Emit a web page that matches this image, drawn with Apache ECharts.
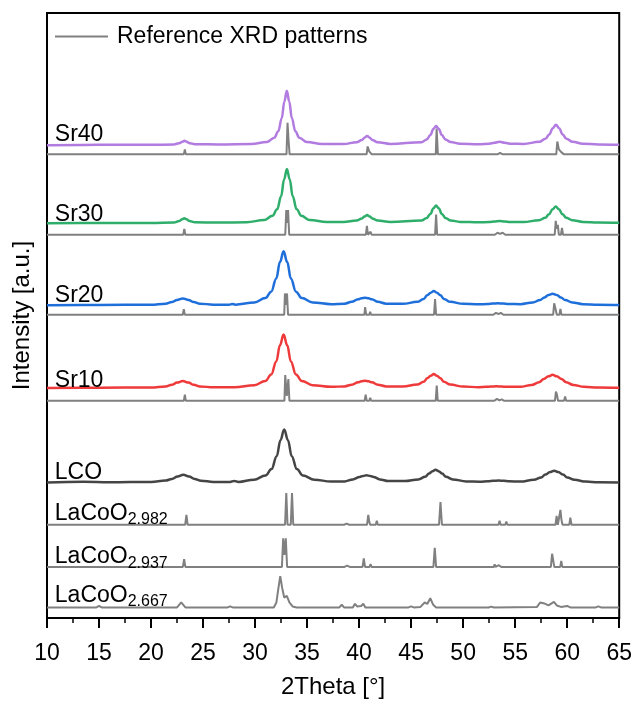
<!DOCTYPE html>
<html><head><meta charset="utf-8">
<script src="https://cdn.jsdelivr.net/npm/echarts@6/dist/echarts.min.js"></script>
<style>html,body{margin:0;padding:0;background:#fff}#c{width:635px;height:704px}</style>
</head><body><div id="c"></div>
<script>
// ---- DATA (2Theta [deg], intensity above each pattern's own baseline, a.u.) ----
const sampleNames = ['Sr40','Sr30','Sr20','Sr10','LCO'];
const refNames = ['LaCoO{s|2.982}','LaCoO{s|2.937}','LaCoO{s|2.667}'];
// vertical stacking offsets used by the original figure (a.u.)
const offSample = [478.3, 399.3, 316, 232.3, 136.7];
const offRefSr = [469, 387.7, 306.7, 219.7];
const offRefLa = [94.3, 51.7, 10.7];

const sr40 = [[10,0],[15,0.3],[20,0.3],[22.2,0.8],[22.7,2],[23.02,3.5],[23.22,4.5],[23.42,3.5],[23.72,2],[24.2,1],[26.5,0.7],[29.65,1.1],[31.13,3.2],[31.85,7.6],[32.23,14.1],[32.57,27.5],[32.81,44],[33.05,55],[33.29,44],[33.53,27.5],[33.87,14.1],[34.25,7.6],[34.97,3.2],[36.45,1.3],[38.5,1.2],[39.77,3],[40.27,5.2],[40.52,7.5],[40.77,9.4],[41.02,7.5],[41.27,5.2],[41.77,3],[43,1.3],[46.0,3],[46.5,5.7],[46.85,10.2],[47.15,16.5],[47.4,19.4],[47.65,16.5],[47.95,10.2],[48.3,5.7],[48.8,3.1],[49.7,1.5],[51.5,1],[52.5,1.5],[53.0,2.4],[53.5,3.4],[54.0,2.4],[54.5,1.5],[55.8,1.3],[57.32,3.4],[57.92,6.6],[58.27,10.8],[58.62,17.2],[58.92,20.7],[59.22,17.2],[59.57,10.8],[59.92,6.6],[60.52,3.4],[61.5,1.5],[63,0.8],[65,0.5]];
const sr30 = [[10,0],[15,0.3],[20,0.3],[22.2,0.8],[22.7,2.2],[23.0,4],[23.2,5],[23.4,4],[23.7,2.2],[24.2,1],[26.5,0.7],[29.2,1.1],[30.86,3.2],[31.68,7.6],[32.12,14.1],[32.51,27.5],[32.78,44],[33.06,55],[33.34,44],[33.61,27.5],[34.0,14.1],[34.44,7.6],[35.26,3.2],[36.9,1.3],[38.5,1.2],[39.77,2.8],[40.27,4.8],[40.52,6.8],[40.77,8.4],[41.02,6.8],[41.27,4.8],[41.77,2.8],[43,1.3],[46.0,2.9],[46.5,5.4],[46.85,9.5],[47.15,15.3],[47.4,18],[47.65,15.3],[47.95,9.5],[48.3,5.4],[48.8,2.9],[49.7,1.4],[51.5,1],[52.5,1.3],[53.0,1.9],[53.5,2.4],[54.0,1.9],[54.5,1.3],[55.8,1.2],[57.3,3.1],[57.9,5.6],[58.25,9],[58.6,14.2],[58.9,17],[59.2,14.2],[59.55,9],[59.9,5.6],[60.5,3.1],[61.5,1.4],[63,0.8],[65,0.5]];
const sr20 = [[10,0.3],[15,0.6],[20,0.9],[21.4,2],[22.0,3.6],[22.5,5.8],[23.06,7.3],[23.6,5.8],[24.1,3.6],[24.7,2],[26,1],[27.5,0.9],[27.8,1.7],[28.1,1],[29.94,3.2],[30.99,7.6],[31.55,14.1],[32.04,27.5],[32.39,44],[32.74,55],[33.09,44],[33.44,27.5],[33.93,14.1],[34.49,7.6],[35.54,3.2],[37.3,1.5],[38.6,2],[39.3,3.8],[39.9,6.4],[40.22,7.4],[40.56,8],[40.9,7.4],[41.22,6.4],[41.8,3.8],[42.6,2],[44.2,1.8],[45.6,3.8],[46.2,6.7],[46.55,10.4],[46.88,13],[47.18,14.7],[47.48,13],[47.81,10.4],[48.16,6.7],[48.76,3.8],[50,1.8],[51.5,1.3],[52.35,1.7],[52.85,2.1],[53.35,2.3],[53.85,2.1],[54.35,1.7],[55.5,1.5],[56.7,3.2],[57.4,5.6],[57.8,8.3],[58.2,10.7],[58.6,12],[59.0,10.7],[59.4,8.3],[59.8,5.6],[60.5,3.2],[61.5,1.5],[63,0.8],[65,0.5]];
const sr10 = [[10,0.3],[15,0.6],[20,0.9],[21.4,2],[22.0,3.6],[22.5,5.9],[23.06,7.4],[23.6,5.9],[24.1,3.6],[24.7,2],[26,1],[28,1],[29.94,3.2],[30.99,7.5],[31.55,14],[32.04,27.2],[32.39,43.5],[32.74,54.4],[33.09,43.5],[33.44,27.2],[33.93,14],[34.49,7.5],[35.54,3.2],[37.3,1.5],[38.6,2],[39.3,3.7],[39.9,6.2],[40.22,7.1],[40.56,7.7],[40.9,7.1],[41.22,6.2],[41.8,3.7],[42.6,2],[44.2,1.8],[45.6,3.8],[46.2,6.6],[46.55,10.2],[46.88,12.7],[47.18,14.4],[47.48,12.7],[47.81,10.2],[48.16,6.6],[48.76,3.8],[50,1.8],[51.5,1.2],[52.2,1.5],[52.7,1.9],[53.2,2.1],[53.7,1.9],[54.2,1.5],[55.5,1.5],[56.6,3.5],[57.3,6.2],[57.75,9.4],[58.2,12.2],[58.6,13.7],[59.0,12.2],[59.45,9.4],[59.9,6.2],[60.6,3.5],[61.6,1.5],[63,0.8],[65,0.5]];
const lco = [[10,0.3],[13.5,1.2],[16,0.6],[20,1],[21.4,2.3],[22.0,4],[22.55,6.5],[23.1,8.3],[23.65,6.5],[24.2,4],[24.8,2.2],[26,1],[27.6,0.8],[28.0,2],[28.4,0.9],[29.9,3.2],[31.0,7.5],[31.58,13.9],[32.08,27],[32.44,43.2],[32.8,54],[33.16,43.2],[33.52,27],[34.02,13.9],[34.6,7.5],[35.7,3.2],[37.3,1.3],[38.6,1.5],[39.4,3.5],[40.05,6],[40.38,7],[40.72,7.6],[41.06,7],[41.39,6],[42.0,3.5],[42.8,1.8],[44.4,1.8],[45.7,3.5],[46.35,6.1],[46.72,9.4],[47.05,11.7],[47.35,13.3],[47.65,11.7],[47.98,9.4],[48.35,6.1],[49.0,3.5],[50.3,1.5],[51.6,1.2],[52.4,1.7],[52.9,2.1],[53.4,2.3],[53.9,2.1],[54.4,1.7],[55.5,1.3],[56.8,3.1],[57.5,5.5],[57.9,8.4],[58.35,10.9],[58.75,12.3],[59.15,10.9],[59.6,8.4],[60.0,5.5],[60.7,3.1],[61.8,1.3],[63,0.6],[65,0.4]];

const ref40 = [[10,0],[23.15,0],[23.25,5],[23.35,0],[33.02,0],[33.12,32],[33.22,14],[33.32,0],[40.72,0],[40.82,8],[40.97,3],[41.22,0],[47.37,0],[47.45,26],[47.57,0],[53.3,0],[53.55,1.5],[53.8,0],[58.95,0],[59.05,13],[59.2,5],[59.45,2],[59.7,0],[65,0]];
const ref30 = [[10,0],[23.1,0],[23.2,6],[23.3,0],[32.9,0],[33.0,25],[33.08,12],[33.17,25],[33.28,0],[40.65,0],[40.75,9],[40.85,0],[41.1,3],[41.2,0],[47.3,0],[47.4,20.5],[47.5,0],[53.05,0],[53.3,2],[53.55,0.8],[53.8,2],[54.05,0],[58.8,0],[58.9,14],[59.0,6],[59.1,10],[59.2,0],[59.4,0],[59.5,7],[59.6,0],[65,0]];
const ref20 = [[10,0],[23.05,0],[23.15,5.6],[23.25,0],[32.8,0],[32.87,21.6],[32.97,10],[33.07,21.6],[33.17,0],[40.5,0],[40.58,7.7],[40.68,0],[40.98,0],[41.06,3],[41.15,0],[47.2,0],[47.3,16],[47.4,0],[52.9,0],[53.15,2],[53.4,0.8],[53.62,2],[53.87,0],[58.65,0],[58.75,11.6],[58.88,6],[59.0,0],[59.25,0],[59.35,6],[59.45,0],[65,0]];
const ref10 = [[10,0],[23.15,0],[23.25,6.3],[23.35,0],[32.82,0],[32.9,26],[33.05,5],[33.2,22],[33.3,0],[40.53,0],[40.63,6.3],[40.73,0],[40.98,0],[41.07,3],[41.16,0],[47.36,0],[47.46,15.3],[47.56,0],[53.0,0],[53.25,2],[53.48,0.5],[53.7,1.5],[53.95,0],[58.82,0],[58.92,9.3],[59.02,6],[59.12,0],[59.7,0],[59.8,4.3],[59.9,0],[65,0]];

const lc982 = [[10,0],[23.28,0],[23.4,10],[23.52,0],[32.88,0],[33.0,32],[33.12,0],[33.43,0],[33.55,32],[33.67,0],[38.55,0],[38.8,1.2],[39.05,0],[40.76,0],[40.88,10],[40.98,3],[41.06,0],[41.6,0],[41.7,4],[41.8,0],[47.68,0],[47.82,23],[47.96,0],[53.4,0],[53.5,4],[53.6,0],[54.05,0],[54.15,3.3],[54.25,0],[58.88,0],[58.98,9],[59.1,0],[59.25,0],[59.35,15],[59.45,5],[59.55,0],[60.2,0],[60.3,7.3],[60.42,0],[65,0]];
const lc937 = [[10,0],[23.06,0],[23.18,7.7],[23.3,0],[32.58,0],[32.7,29],[32.82,12],[32.95,29],[33.08,0],[38.6,0],[38.85,1.2],[39.1,0],[40.33,0],[40.45,8.7],[40.57,0],[41.0,0],[41.1,2.7],[41.2,0],[47.14,0],[47.27,19.3],[47.4,0],[52.95,0],[53.03,2.7],[53.12,0],[53.2,0],[53.43,1.7],[53.66,0],[58.43,0],[58.55,13.3],[58.68,5],[58.76,0],[59.33,0],[59.43,6],[59.53,0],[65,0]];
const lc667 = [[10,0],[14.75,0],[15.0,1.5],[15.25,0],[22.5,0],[22.7,2.5],[22.9,5],[23.1,2.5],[23.3,0],[27.35,0],[27.6,1],[27.85,0],[31.8,0],[32.05,5],[32.25,20],[32.42,31.6],[32.6,20],[32.8,10],[33.05,11.7],[33.3,5],[33.6,1],[34,0],[38.1,0],[38.33,2.7],[38.55,0],[39.4,0],[39.6,3.7],[39.8,1],[40.2,1.5],[40.4,3.7],[40.6,0],[44.75,0],[45.0,1],[45.25,0],[45.9,0.5],[46.3,5],[46.55,3.5],[46.84,9.3],[47.1,3],[47.4,0],[52.45,0],[52.7,0.8],[52.95,0],[57.1,0.5],[57.4,5],[57.56,7],[57.8,4],[58.2,2],[58.73,5.6],[59.0,2],[59.4,0.5],[60.0,1.5],[60.3,0],[62.75,0],[63.0,1],[63.25,0],[65,0]];

// ---- layout / style ----
const sampleData = [sr40, sr30, sr20, sr10, lco];
const refSrData = [ref40, ref30, ref20, ref10];
const refLaData = [lc982, lc937, lc667];
const sampleColors = ['#b27be0', '#2fae6b', '#1f6fdb', '#ee3a3a', '#454545'];
const refColor = '#808080';
const labelX = 10.75;
const sampleLabelY = [489, 408, 326, 240, 147];
const refLabelY = [106, 62, 23];
const FONT = "'Liberation Sans', Arial, sans-serif";

const shift = (arr, off) => arr.map(p => [p[0], p[1] + off]);

function labelPoint(text, y) {
  return {
    symbol: 'circle', symbolSize: 0, silent: true,
    data: [{ coord: [labelX, y], value: text }],
    label: {
      show: true, position: 'right', distance: 0, color: '#000',
      fontFamily: FONT, fontSize: 23,
      formatter: () => text,
      rich: {
        s: { fontFamily: FONT, fontSize: 16, color: '#000', verticalAlign: 'top', padding: [13, 0, 0, 0] }
      }
    }
  };
}

const series = [];
sampleData.forEach((d, i) => {
  series.push({
    name: sampleNames[i], type: 'line', data: shift(d, offSample[i]),
    showSymbol: false, symbol: 'none', smooth: 0.4, smoothMonotone: 'x',
    lineStyle: { color: sampleColors[i], width: 2.5 }, itemStyle: { color: sampleColors[i] },
    markPoint: labelPoint(sampleNames[i], sampleLabelY[i]), z: 3
  });
});
refSrData.forEach((d, i) => {
  series.push({
    name: 'Reference XRD patterns', type: 'line', data: shift(d, offRefSr[i]),
    showSymbol: false, symbol: 'none',
    lineStyle: { color: refColor, width: 2 }, itemStyle: { color: refColor }, z: 2
  });
});
refLaData.forEach((d, i) => {
  series.push({
    name: 'ref' + i, type: 'line', data: shift(d, offRefLa[i]),
    showSymbol: false, symbol: 'none',
    lineStyle: { color: refColor, width: 2 }, itemStyle: { color: refColor },
    markPoint: labelPoint(refNames[i], refLabelY[i]), z: 2
  });
});

const chart = echarts.init(document.getElementById('c'), null, { renderer: 'canvas' });
chart.setOption({
  animation: false,
  backgroundColor: '#fff',
  textStyle: { fontFamily: FONT },
  grid: { left: 47, right: 13, top: 13, bottom: 79, show: true, borderColor: '#000', borderWidth: 2, backgroundColor: 'transparent' },
  legend: {
    data: ['Reference XRD patterns'], left: 55, top: 25, padding: 0,
    itemWidth: 53, itemHeight: 2, icon: 'rect',
    textStyle: { fontFamily: FONT, fontSize: 23, color: '#000', padding: [0, 0, 0, 4] }
  },
  xAxis: {
    type: 'value', min: 10, max: 65, interval: 5,
    name: '2Theta [°]', nameLocation: 'middle', nameGap: 57,
    nameTextStyle: { fontFamily: FONT, fontSize: 24, color: '#000' },
    axisLine: { show: true, lineStyle: { color: '#000', width: 2 } },
    axisTick: { show: true, length: 10, lineStyle: { color: '#000', width: 2 } },
    minorTick: { show: true, splitNumber: 2, length: 5, lineStyle: { color: '#000', width: 1.5 } },
    axisLabel: { fontFamily: FONT, fontSize: 23, color: '#000', margin: 24 },
    splitLine: { show: false }
  },
  yAxis: {
    type: 'value', min: 0, max: 612,
    name: 'Intensity [a.u.]', nameLocation: 'middle', nameGap: 13,
    nameTextStyle: { fontFamily: FONT, fontSize: 24, color: '#000' },
    axisLine: { show: false }, axisTick: { show: false }, axisLabel: { show: false },
    splitLine: { show: false }
  },
  series
});
</script></body></html>
